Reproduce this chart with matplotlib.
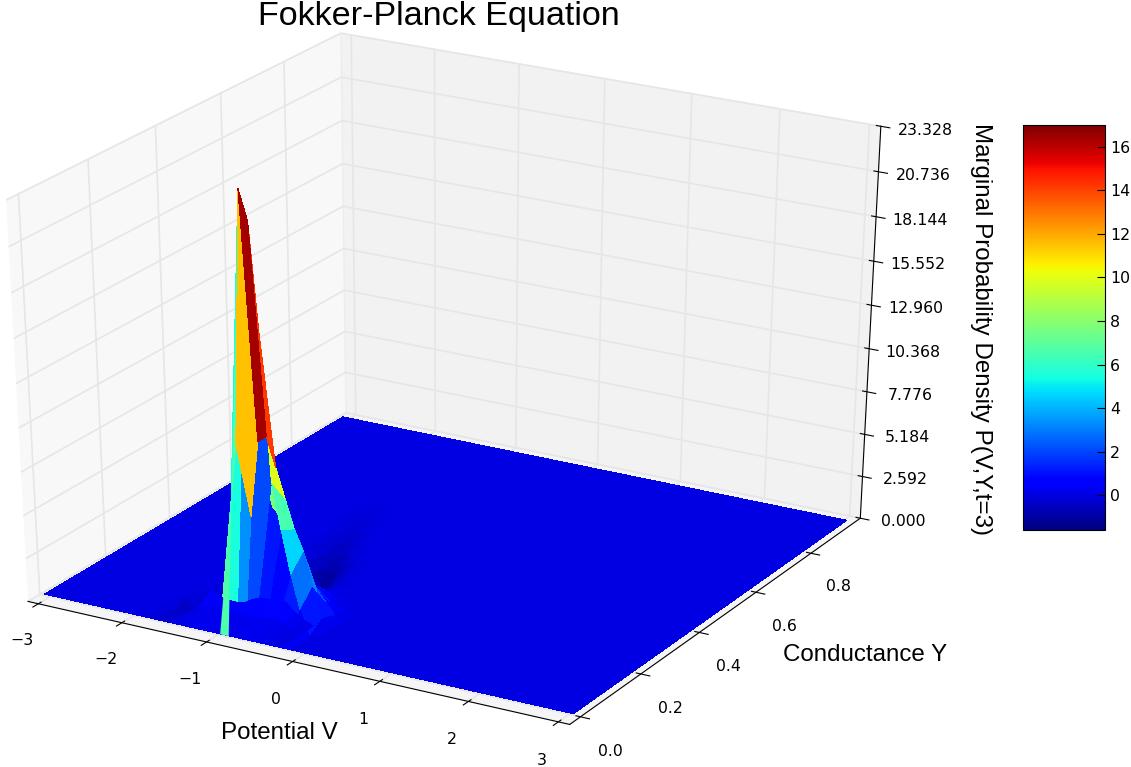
#Fokker-Planck surface plot
import numpy as np
import matplotlib
matplotlib.use('Agg')
from matplotlib import pyplot as plt
from mpl_toolkits.mplot3d import Axes3D

plt.rcParams['font.family'] = ['Liberation Sans', 'DejaVu Sans']

# potential grid
potential = [-3.09, -2.9, -2.8, -2.7, -2.6, -2.5, -2.4, -2.3, -2.2, -2.1, -2.0, -1.9, -1.8,
             -1.7, -1.6, -1.5, -1.4, -1.3, -1.2, -1.1, -1.0, -0.9, -0.8, -0.7, -0.6, -0.5, -0.4,
             -0.3, -0.2, -0.1, 0.0, 0.1, 0.2, 0.3, 0.4, 0.5, 0.6, 0.7, 0.8, 0.9, 1.0,
             1.1, 1.2, 1.3, 1.4, 1.5, 1.6, 1.7, 1.8, 1.9, 2.0, 2.1, 2.2, 2.3, 2.4, 2.5,
             2.6, 2.7, 2.8, 2.9, 3.03]
conductance = [0.005, 0.07, 0.11, 0.15, 0.19, 0.23, 0.27, 0.31, 0.35, 0.39, 0.43, 0.47, 0.51,
               0.55, 0.59, 0.63, 0.67, 0.71, 0.75, 0.79, 0.83, 0.87, 0.91, 0.965]

# density around the peak, columns are potential -1.8 ... -0.2
peak_first_col = 12
peak_row_07 = [-0.2, -0.8, -0.5, -0.1, 0, 0.1, 0.5, 3.0, 10.5, 25.0, 23.3, 17.0, 8.7, 6.0, 3.5, 1.5, 0]
peak_row_11 = [0, -0.6, -1.4, -1.0, -0.4, 0, 0.5, 2.0, 5.8, 10.3, 10.7, 9.0, 7.3, 5.6, 4.4, 2.5, 0.6]
peak_row_15 = [0, 0, -0.5, -1.0, -0.8, -0.3, 0.6, 0.9, 2.0, 6.0, 5.5, 4.0, 3.0, 2.0, 1.5, 1.0, 0.3]
peak_row_19 = [0, 0, 0, -0.3, -0.3, 0, 0.2, 0.4, 0.8, 2.5, 2.2, 1.8, 1.2, 0.8, 0.4, 0.1, 0]
peak_row_23 = [0, 0, 0, 0, 0, 0, 0, 0.1, 0.2, 0.6, 0.6, 0.5, 0.3, 0.1, 0, 0, 0]
peak_row_27 = [0, 0, 0, 0, 0, 0, 0, -0.1, -0.4, -0.6, -0.5, -0.3, -0.1, 0, 0, 0, 0]
peak_row_31 = [0, 0, 0, 0, 0, 0, -0.2, -0.8, -1.2, -1.0, -0.5, -0.2, 0, 0, 0, 0, 0]
peak_row_35 = [0, 0, 0, 0, 0, -0.1, -0.6, -1.4, -1.4, -0.8, -0.3, -0.1, 0, 0, 0, 0, 0]
peak_row_39 = [0, 0, 0, 0, 0, -0.3, -0.9, -1.1, -0.6, -0.2, 0, 0, 0, 0, 0, 0, 0]
peak_row_43 = [0, 0, 0, 0, -0.1, -0.5, -0.7, -0.5, -0.2, 0, 0, 0, 0, 0, 0, 0, 0]
peak_row_47 = [0, 0, 0, 0, -0.2, -0.4, -0.4, -0.2, 0, 0, 0, 0, 0, 0, 0, 0, 0]
peak_row_51 = [0, 0, 0, 0, -0.2, -0.3, -0.2, 0, 0, 0, 0, 0, 0, 0, 0, 0, 0]
peak_row_55 = [0, 0, 0, -0.1, -0.2, -0.2, -0.1, 0, 0, 0, 0, 0, 0, 0, 0, 0, 0]
peak_row_59 = [0, 0, 0, -0.1, -0.2, -0.1, 0, 0, 0, 0, 0, 0, 0, 0, 0, 0, 0]
peak_rows = [peak_row_07, peak_row_11, peak_row_15, peak_row_19, peak_row_23, peak_row_27, peak_row_31,
             peak_row_35, peak_row_39, peak_row_43, peak_row_47, peak_row_51, peak_row_55, peak_row_59]

# colour levels of the facets in the front strip, from potential -1.1 on
front_strip_first_col = 19
front_strip_levels = [5.0, 7.0, 5.8, 3.6, 2.2, 1.2, 0.8]
# colour level of the big orange facet left of the tip
orange_facet_level = 12.2

# low blue rise in front of the peak, potential -1.6 ... -0.3, conductance 0.005, 0.07, 0.11
rise_first_col = 14
rise_row_00 = [0, 0, 0, 0, 0, 0, 0, 0, 0, 0, 0, 0, 0, 0]
rise_row_07 = [-0.2, 0.2, 0.3, 0.3, 0.3, 0.3, 0.4, 0.4, 0.4, 0.5, 0.5, 0.3, 0.1, 0]
rise_row_11 = [-0.3, 0.8, 0.5, 0.4, 0.4, 0.5, 0.8, 1.0, 1.0, 1.2, 1.0, 0.5, 0.2, 0]

# peak facets that stay on top, potential -1.0 ... -0.3, between conductance 0.07 and 0.11
top_first_col = 20
top_last_col = 27

z_ticks = [0.0, 2.592, 5.184, 7.776, 10.368, 12.96, 15.552, 18.144, 20.736, 23.328]
z_tick_labels = ['0.000', '2.592', '5.184', '7.776', '10.368', '12.960', '15.552', '18.144', '20.736', '23.328']
bar_ticks = [0, 2, 4, 6, 8, 10, 12, 14, 16]

V, Y = np.meshgrid(potential, conductance)
P = np.zeros_like(V)
for row, vals in enumerate(peak_rows):
    P[row + 1, peak_first_col:peak_first_col + len(vals)] = vals

# facet colour from the mean of its four corners
level = P.copy()
level[:-1, :-1] = (P[:-1, :-1] + P[1:, :-1] + P[:-1, 1:] + P[1:, 1:]) / 4
level[0, front_strip_first_col:front_strip_first_col + len(front_strip_levels)] = front_strip_levels
level[1, 20] = orange_facet_level
norm = matplotlib.colors.Normalize(vmin=-1.7, vmax=18.0)
face_colors = plt.cm.jet(norm(level))

fig = plt.figure(figsize=(11.31, 7.67), dpi=100)
ax = fig.add_axes([-0.1045, -0.013, 0.980, 1.044], projection='3d', computed_zorder=False)
# old mplot3d look: unit cube stretched to fill the axes
ax.apply_aspect = lambda position=None: None
ax.set_box_aspect((1, 1, 1), zoom=0.947)
ax.view_init(elev=28.5, azim=-60)

ax.plot_surface(V, Y, P, rstride=1, cstride=1, facecolors=face_colors,
                linewidth=0, antialiased=False, shade=False, zorder=2)

rise = np.array([rise_row_00, rise_row_07, rise_row_11])
rise_cols = rise_first_col + rise.shape[1]
ax.plot_surface(V[:3, rise_first_col:rise_cols], Y[:3, rise_first_col:rise_cols], rise,
                rstride=1, cstride=1, cmap='jet', norm=norm,
                linewidth=0, antialiased=False, shade=False, zorder=3)

# green strip in front of the rise
ax.plot_surface(V[:2, 20:22], Y[:2, 20:22], P[:2, 20:22], rstride=1, cstride=1,
                facecolors=face_colors[:2, 20:22], linewidth=0, antialiased=False, shade=False, zorder=4)

ax.plot_surface(V[1:3, top_first_col:top_last_col + 1], Y[1:3, top_first_col:top_last_col + 1],
                P[1:3, top_first_col:top_last_col + 1], rstride=1, cstride=1,
                facecolors=face_colors[1:3, top_first_col:top_last_col + 1],
                linewidth=0, antialiased=False, shade=False, zorder=5)

ax.set_xlim(-3.125, 3.125)
ax.set_ylim(-0.035, 0.985)
ax.set_zlim(0, 23.328)
ax.set_xticks([-3, -2, -1, 0, 1, 2, 3])
ax.set_yticks([0.0, 0.2, 0.4, 0.6, 0.8])
ax.set_zticks(z_ticks)
ax.set_zticklabels(z_tick_labels)
ax.tick_params(labelsize=11.3, labelfontfamily='DejaVu Sans')
ax.tick_params(axis='x', pad=10)
ax.tick_params(axis='y', pad=11)
ax.tick_params(axis='z', pad=11)

for axis in (ax.xaxis, ax.yaxis, ax.zaxis):
    axis._axinfo['grid'].update(color=(0.9, 0.9, 0.9, 1), linewidth=1.2)
    axis.pane.set_edgecolor((0.9, 0.9, 0.9, 1))
    axis.line.set_color('black')

fig.text(279 / 1131, 1 - 733 / 767, 'Potential V', fontsize=17.4, ha='center', va='center')
fig.text(865 / 1131, 1 - 655 / 767, 'Conductance Y', fontsize=17.4, ha='center', va='center')
fig.text(981 / 1131, 1 - 329 / 767, 'Marginal Probability Density P(V,Y,t=3)', fontsize=17.4,
         rotation=270, ha='center', va='center')
fig.text(439 / 1131, 1 - 16 / 767, 'Fokker-Planck Equation', fontsize=24.6, ha='center', va='center')

cax = fig.add_axes([1023 / 1131, 1 - 530 / 767, 82 / 1131, 405 / 767])
bar_map = matplotlib.cm.ScalarMappable(norm=matplotlib.colors.Normalize(vmin=-1.6, vmax=17.0), cmap='jet')
cb = fig.colorbar(bar_map, cax=cax, ticks=bar_ticks)
cb.ax.tick_params(labelsize=11.3, direction='in', length=6, labelfontfamily='DejaVu Sans')

fig.savefig('out.png', dpi=100)
